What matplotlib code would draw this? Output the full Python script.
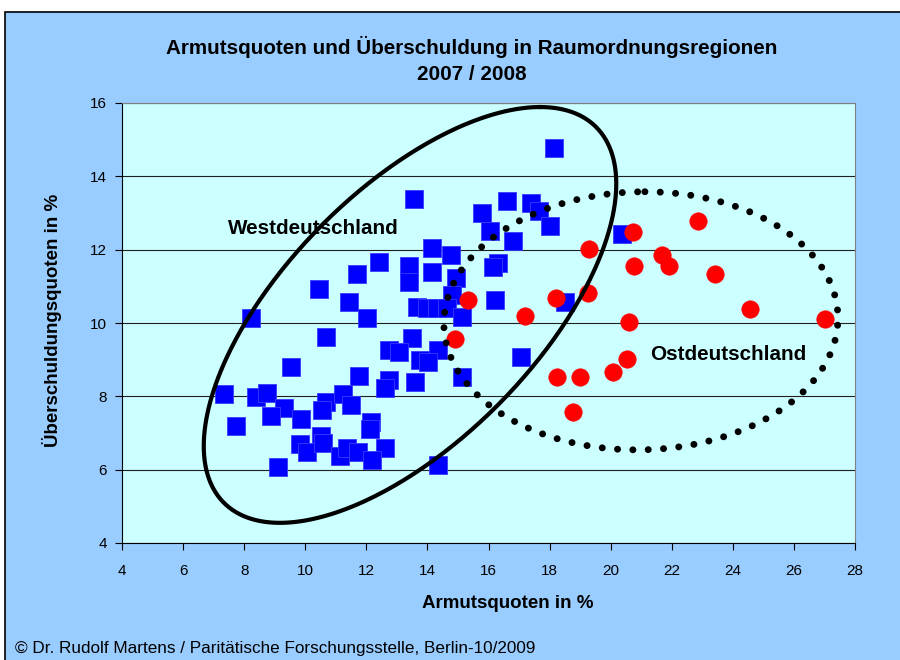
import matplotlib
import matplotlib.pyplot as plt
import numpy as np
from matplotlib.patches import Rectangle

matplotlib.use("Agg")
plt.rcParams["font.family"] = ["Liberation Sans", "DejaVu Sans"]

# West (blaue Quadrate): Armutsquote, Überschuldungsquote
west_x = [18.13, 13.55, 16.62, 17.39, 15.79, 17.64, 16.05, 18.03, 16.79, 14.14,
          14.77, 12.42, 13.39, 13.39, 14.14, 16.30, 16.16, 14.95, 14.79, 16.20,
          18.52, 13.65, 13.98, 14.31, 14.63, 15.14, 13.51, 12.75, 13.07, 14.34,
          13.76, 14.03, 17.05, 12.74, 12.60, 13.59, 15.14, 12.60, 14.36, 11.68,
          10.46, 11.43, 12.01, 8.22, 10.68, 9.53, 11.77, 7.34, 8.39, 8.74,
          9.30, 8.87, 9.87, 7.72, 10.67, 11.23, 10.54, 11.49, 12.15, 12.12,
          10.52, 9.83, 10.05, 10.57, 11.14, 11.38, 11.74, 12.18, 9.12, 20.36]
west_y = [14.76, 13.38, 13.33, 13.28, 13.01, 13.05, 12.52, 12.65, 12.24, 12.05,
          11.85, 11.67, 11.55, 11.13, 11.40, 11.65, 11.54, 11.22, 10.76, 10.63,
          10.58, 10.45, 10.40, 10.40, 10.40, 10.17, 9.58, 9.26, 9.22, 9.26,
          8.99, 8.93, 9.08, 8.45, 8.22, 8.40, 8.52, 6.58, 6.13, 11.35,
          10.94, 10.58, 10.15, 10.13, 9.63, 8.81, 8.56, 8.06, 7.99, 8.08,
          7.67, 7.46, 7.37, 7.19, 7.85, 8.06, 7.63, 7.76, 7.31, 7.10,
          6.92, 6.69, 6.47, 6.72, 6.38, 6.58, 6.47, 6.26, 6.06, 12.42]

# Ost (rote Kreise)
ost_x = [22.87, 20.74, 19.30, 21.69, 20.77, 21.92, 23.43, 15.32, 18.20, 19.25,
         24.57, 27.02, 17.21, 20.59, 14.89, 20.52, 20.09, 18.23, 19.00, 18.78]
ost_y = [12.79, 12.49, 12.02, 11.85, 11.56, 11.56, 11.33, 10.63, 10.67, 10.83,
         10.37, 10.10, 10.20, 10.04, 9.56, 9.01, 8.65, 8.52, 8.54, 7.58]

x_ticks = list(range(4, 30, 2))
y_ticks = list(range(4, 18, 2))

# Ellipsen: Mittelpunkt und konjugierte Halbmesser (Datenkoordinaten)
west_ell = dict(c=(13.43, 10.22), u=(4.26, 5.67), v=(5.24, 0.0))
ost_ell = dict(c=(20.99, 10.06), u=(0.13, 3.52), v=(6.45, 0.0))


def ellipse_xy(c, u, v, n=400):
    t = np.linspace(0, 2 * np.pi, n)
    x = c[0] + u[0] * np.cos(t) + v[0] * np.sin(t)
    y = c[1] + u[1] * np.cos(t) + v[1] * np.sin(t)
    return x, y


fig = plt.figure(figsize=(9, 6.6), dpi=100)
fig.patch.set_facecolor("white")
fig.patches.append(
    Rectangle((5 / 900, -0.01), 1.0, 1 - 12 / 660 + 0.01, transform=fig.transFigure,
              facecolor="#99CCFF", edgecolor="black", linewidth=1.2, zorder=-1)
)

ax = fig.add_axes([122 / 900, 1 - 543 / 660, 733 / 900, 440 / 660])
ax.set_facecolor("#CCFFFF")

ax.scatter(west_x, west_y, marker="s", s=13 ** 2, color="#0000FF",
           edgecolors="#3A3AFF", linewidths=0.6, zorder=3)
ax.scatter(ost_x, ost_y, marker="o", s=12.5 ** 2, color="#FF0000",
           edgecolors="#FF0000", linewidths=0.5, zorder=3)

wx, wy = ellipse_xy(**west_ell)
ax.plot(wx, wy, color="black", linewidth=3, zorder=4)
ox, oy = ellipse_xy(**ost_ell)
ax.plot(ox, oy, color="black", linewidth=5, linestyle=(0, (0.01, 2.2)),
        dash_capstyle="round", zorder=4)

ax.set_xlim(4, 28)
ax.set_ylim(4, 16)
ax.set_xticks(x_ticks)
ax.set_yticks(y_ticks)
ax.grid(axis="y", color="#202020", linewidth=0.8)
ax.set_axisbelow(True)
ax.tick_params(axis="both", direction="out", length=5, width=0.8,
               labelsize=11, color="black")
ax.tick_params(axis="x", pad=10)
ax.tick_params(axis="y", pad=6)
for name, spine in ax.spines.items():
    spine.set_color("black" if name in ("left", "bottom") else "#808080")
    spine.set_linewidth(0.8)

fig.text(472 / 900, 1 - 47 / 660, "Armutsquoten und Überschuldung in Raumordnungsregionen",
         ha="center", va="center", fontsize=14.9, fontweight="bold")
fig.text(472 / 900, 1 - 75 / 660, "2007 / 2008", ha="center", va="center",
         fontsize=14.9, fontweight="bold")
fig.text(728 / 900, 1 - 355 / 660, "Ostdeutschland", ha="center", va="center",
         fontsize=14.9, fontweight="bold")
fig.text(313 / 900, 1 - 229 / 660, "Westdeutschland", ha="center", va="center",
         fontsize=14.9, fontweight="bold")
fig.text(508 / 900, 1 - 603 / 660, "Armutsquoten in %", ha="center", va="center",
         fontsize=13.5, fontweight="bold")
fig.text(52 / 900, 1 - 320 / 660, "Überschuldungsquoten in %", ha="center",
         va="center", rotation=90, fontsize=13.5, fontweight="bold")
fig.text(15 / 900, 1 - 648 / 660,
         "© Dr. Rudolf Martens / Paritätische Forschungsstelle, Berlin-10/2009",
         ha="left", va="center", fontsize=12.3)

fig.savefig("out.png", dpi=100)
